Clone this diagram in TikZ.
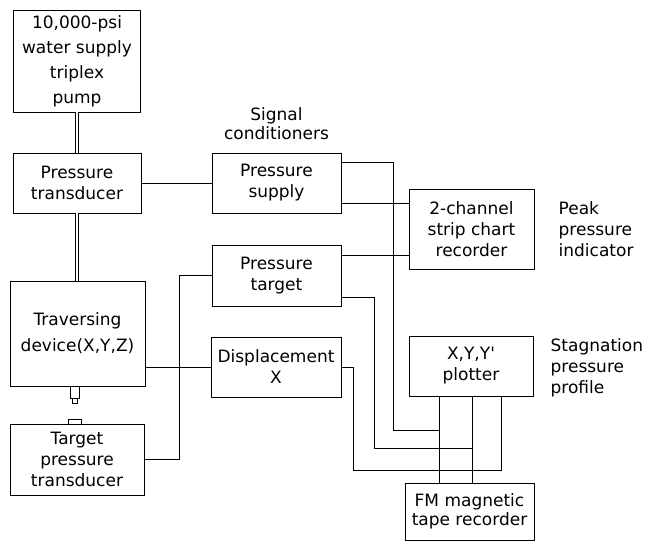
\documentclass[tikz,border=0pt]{standalone}
\usepackage{fontspec}
\setmainfont{DejaVu Sans}
\usepackage{tikz}
\usetikzlibrary{calc,positioning}

\begin{document}
\begin{tikzpicture}[x=1pt, y=-1pt,
  every node/.style={font=\fontsize{17}{21}\selectfont},
  blk/.style={draw, line width=0.9pt, align=center, inner sep=0pt},
  lbl/.style={align=left, inner sep=0pt},
  wire/.style={line width=0.7pt},
  pipe/.style={double, double distance=2.5pt, line width=0.7pt}]
  \useasboundingbox[fill=white] (0,0) rectangle (657,544);

  % Left column
  \node[blk, minimum width=127pt, minimum height=102pt, font=\fontsize{17}{25}\selectfont] (pump) at (77,61) {10,000-psi\\water supply\\triplex\\pump};
  \node[blk, minimum width=128pt, minimum height=60pt] (ptrans) at (77,183) {Pressure\\transducer};
  \node[blk, minimum width=135pt, minimum height=105pt, font=\fontsize{17}{26}\selectfont] (trav) at (77.5,333.5) {Traversing\\device(X,Y,Z)};
  \node[blk, minimum width=134pt, minimum height=71pt] (ttrans) at (77,459.5) {Target\\pressure\\transducer};

  % Signal conditioners
  \node[blk, minimum width=129pt, minimum height=60pt] (psupply) at (276.5,183) {Pressure\\supply};
  \node[blk, minimum width=129pt, minimum height=61pt] (ptarget) at (276.5,275.5) {Pressure\\target};
  \node[blk, minimum width=130pt, minimum height=60pt] (disp) at (276,367) {Displacement\\X};

  % Recorders
  \node[blk, minimum width=125pt, minimum height=80pt] (strip) at (471.5,229) {2-channel\\strip chart\\recorder};
  \node[blk, minimum width=124pt, minimum height=60pt] (plotter) at (471,366) {X,Y,Y\textquotesingle\\plotter};
  \node[blk, minimum width=129pt, minimum height=57pt, font=\fontsize{17}{19}\selectfont] (fm) at (469.5,511.5) {FM magnetic\\tape recorder};

  % Labels
  \node[above=13pt of psupply, lbl, align=center, font=\fontsize{17}{19}\selectfont] (sig) {Signal\\conditioners};
  \node[right=24pt of strip, lbl] (peak) {Peak\\pressure\\indicator};
  \node[right=17pt of plotter, lbl, yshift=-2pt] (stag) {Stagnation\\pressure\\profile};

  % Water line
  \draw[pipe] (pump.south) -- (pump.south |- ptrans.north);
  \draw[pipe] (ptrans.south) -- (ptrans.south |- trav.north);

  % Probe
  \draw[line width=0.9pt] ([xshift=-7.5pt]trav.south) rectangle ++(9,12);
  \draw[line width=0.9pt] ([xshift=-5.5pt]trav.south) ++(0,12) -- ++(0,5) -- ++(5,0) -- ++(0,-5);
  \draw[line width=0.9pt] ([xshift=-9pt]ttrans.north) -- ++(0,-4) -- ++(13,0) -- ++(0,4);

  % Plotter to tape recorder
  \coordinate (pa) at ([xshift=31pt]plotter.south west);
  \coordinate (pb) at ([xshift=64pt]plotter.south west);
  \coordinate (pc) at ([xshift=93pt]plotter.south west);
  \coordinate (ja) at (pa |- 0,430);
  \coordinate (jb) at (pb |- 0,448);
  \coordinate (jc) at (pc |- 0,470);
  \draw[wire] (pa) -- (pa |- fm.north);
  \draw[wire] (pb) -- (pb |- fm.north);
  \draw[wire] (pc) -- (jc);

  % Signal lines
  \draw[wire] (ptrans) -- (psupply);
  \draw[wire] ([yshift=-10pt]psupply.north east) -| ([xshift=-46pt]ja) -- (ja);
  \draw[wire] ([yshift=10pt]psupply.south east) coordinate (s1) -- (s1 -| strip.west);
  \draw[wire] ([yshift=-11pt]ptarget.north east) coordinate (s2) -- (s2 -| strip.west);
  \draw[wire] ([yshift=9pt]ptarget.south east) -| ([xshift=-98pt]jb) -- (jb);
  \draw[wire] (disp.east) -| ([xshift=-148pt]jc) -- (jc);
  \draw[wire] (disp.west -| trav.east) -- (disp.west);
  \draw[wire] (ttrans.east) -| ([xshift=-32pt]ptarget.west) -- (ptarget.west);
\end{tikzpicture}
\end{document}
